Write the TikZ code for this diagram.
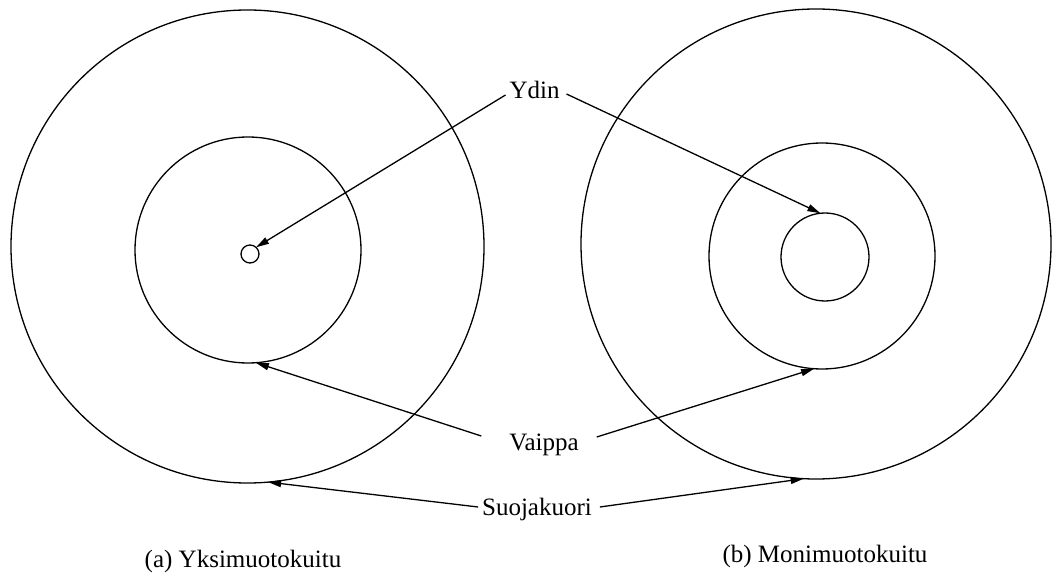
\documentclass[tikz,border=0pt]{standalone}
\usepackage{fontspec}
\setmainfont{Liberation Serif}
\usetikzlibrary{arrows.meta}
\begin{document}
\begin{tikzpicture}[x=1pt,y=-1pt,
  ring/.style={draw,circle,inner sep=0pt,outer sep=0pt,line width=1.3pt},
  lbl/.style={inner sep=0pt,outer sep=0pt,anchor=base,font=\fontsize{25}{28}\selectfont},
  pointer/.style={line width=1.3pt,-{Triangle[length=13pt,width=7pt]}}]
\useasboundingbox (0,0) rectangle (1060,577);
% left fibre
\node[ring,minimum size=473pt] (lo) at (247.5,246.5) {};
\node[ring,minimum size=226pt] (lm) at (248,250) {};
\node[ring,minimum size=18pt] (ls) at (250,254) {};
% right fibre
\node[ring,minimum size=470pt] (ro) at (816,244) {};
\node[ring,minimum size=226pt] (rm) at (822,256) {};
\node[ring,minimum size=88pt] (ri) at (825,257) {};
% labels
\node[lbl] (ydin) at (534.5,99) {Ydin};
\node[lbl] (vaippa) at (544,450) {Vaippa};
\node[lbl] (suoja) at (537,515) {Suojakuori};
\node[lbl] (capa) at (243,567) {(a) Yksimuotokuitu};
\node[lbl] (capb) at (825,562) {(b) Monimuotokuitu};
% connectors
\draw[pointer] ([xshift=-4pt,yshift=4pt]ydin.base west) -- (ls.48);
\draw[pointer] ([xshift=7pt,yshift=5pt]ydin.base east) -- (ri.96);
\draw[pointer] ([xshift=-28pt,yshift=14pt]vaippa.base west) -- (lm.-86.5);
\draw[pointer] ([xshift=18pt,yshift=13pt]vaippa.base east) -- (rm.-94.5);
\draw[pointer] ([xshift=-4pt,yshift=8pt]suoja.base west) -- (lo.-85.3);
\draw[pointer] ([xshift=8pt,yshift=8pt]suoja.base east) -- (ro.-93.4);
\end{tikzpicture}
\end{document}
